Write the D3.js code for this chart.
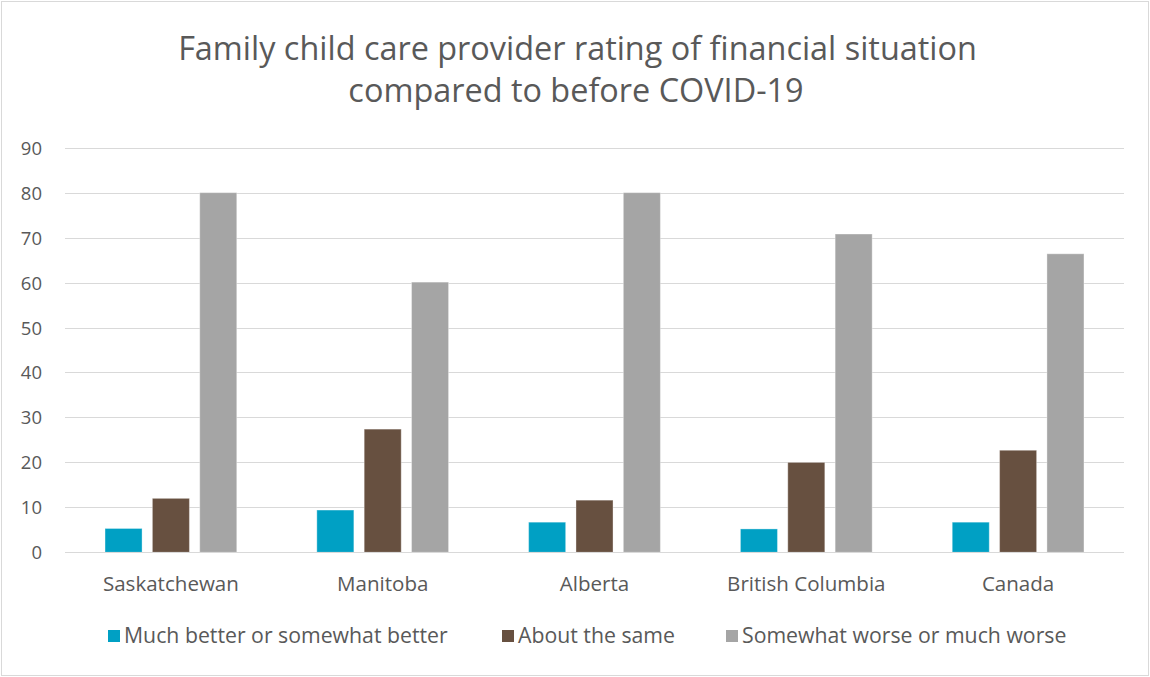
<!DOCTYPE html>
<html>
<head>
<meta charset="utf-8">
<script src="https://cdn.jsdelivr.net/npm/d3@7"></script>
<style>
  html, body { margin: 0; padding: 0; background: #fff; }
  svg { display: block; }
  text { font-family: "Open Sans", "Noto Sans", sans-serif; fill: #595959; }
</style>
</head>
<body>
<svg id="chart" width="1150" height="677"></svg>
<script>
const titleLines = ["Family child care provider rating of financial situation", "compared to before COVID-19"];
const categories = ["Saskatchewan", "Manitoba", "Alberta", "British Columbia", "Canada"];
const seriesNames = ["Much better or somewhat better", "About the same", "Somewhat worse or much worse"];
const seriesColors = ["#00A0C4", "#675040", "#A5A5A5"];
const betterValues = [5.3, 9.4, 6.7, 5.2, 6.7];
const sameValues = [12.0, 27.4, 11.6, 20.0, 22.7];
const worseValues = [80.0, 60.1, 80.0, 70.8, 66.4];
const yTicks = [0, 10, 20, 30, 40, 50, 60, 70, 80, 90];

const seriesValues = [betterValues, sameValues, worseValues];
const W = 1150, H = 677;
const plot = { left: 65, right: 1124, top: 147.7, bottom: 552.3 };

const svg = d3.select("#chart");

// outer border
svg.append("rect").attr("x", 1.5).attr("y", 1.5).attr("width", W - 3).attr("height", H - 3)
  .attr("fill", "#fff").attr("stroke", "#d9d9d9").attr("stroke-width", 1);

function fit(sel, target) {
  const w = sel.node().getComputedTextLength();
  const fs = parseFloat(sel.attr("font-size"));
  sel.attr("font-size", fs * target / w);
}

// title
const t1 = svg.append("text").attr("x", 577.5).attr("y", 60).attr("text-anchor", "middle")
  .attr("font-size", 30).text(titleLines[0]);
fit(t1, 799);
const tfs = t1.attr("font-size");
svg.append("text").attr("x", 576).attr("y", 102).attr("text-anchor", "middle")
  .attr("font-size", tfs).text(titleLines[1]);

const y = d3.scaleLinear().domain([0, 90]).range([plot.bottom, plot.top]);
const x0 = d3.scaleBand().domain(categories).range([plot.left, plot.right])
  .paddingInner(0.378).paddingOuter(0.189);
const x1 = d3.scaleBand().domain(seriesNames).range([0, x0.bandwidth()]).paddingInner(0.218);

// gridlines
const grid = svg.append("g");
grid.selectAll("line").data(yTicks).join("line")
  .attr("x1", plot.left).attr("x2", plot.right)
  .attr("y1", d => Math.round(y(d)) + 0.5).attr("y2", d => Math.round(y(d)) + 0.5)
  .attr("stroke", "#d9d9d9").attr("stroke-width", 1.2);

// y axis labels
const yAxis = svg.append("g").attr("transform", `translate(${plot.left},0)`)
  .call(d3.axisLeft(y).tickValues(yTicks).tickSize(0).tickPadding(23));
yAxis.select(".domain").remove();
yAxis.selectAll("text").attr("font-size", 18.5).attr("font-family", null).style("fill", "#595959")
  .attr("dy", "0.35em");
yAxis.attr("font-family", null).attr("font-size", null);

// bars
const groups = svg.append("g").selectAll("g").data(categories).join("g")
  .attr("transform", d => `translate(${x0(d)},0)`);
groups.selectAll("rect").data((c, ci) => seriesNames.map((s, si) => ({ s, si, v: seriesValues[si][ci] })))
  .join("rect")
  .attr("x", d => x1(d.s)).attr("width", x1.bandwidth())
  .attr("y", d => y(d.v)).attr("height", d => y(0) - y(d.v))
  .attr("fill", d => seriesColors[d.si])
  .attr("stroke", "#ffffff").attr("stroke-opacity", 0.35).attr("stroke-width", 1);

// baseline (0 gridline over bars)
svg.append("line").attr("x1", plot.left).attr("x2", plot.right)
  .attr("y1", Math.round(y(0)) + 0.5).attr("y2", Math.round(y(0)) + 0.5)
  .attr("stroke", "#d9d9d9").attr("stroke-width", 1.2);

// x axis labels
const xAxis = svg.append("g").attr("transform", `translate(0,${plot.bottom})`)
  .call(d3.axisBottom(x0).tickSize(0).tickPadding(0));
xAxis.select(".domain").remove();
xAxis.attr("font-family", null).attr("font-size", null);
xAxis.selectAll("text").attr("font-size", 18).attr("dy", null).attr("y", 39).style("fill", "#595959");
const sk = xAxis.selectAll("text").filter(d => d === "Saskatchewan");
fit(sk, 136);
xAxis.selectAll("text").attr("font-size", sk.attr("font-size"));

// legend
const legendX = [108, 502, 726];
const legend = svg.append("g");
const li = legend.selectAll("g").data(seriesNames).join("g")
  .attr("transform", (d, i) => `translate(${legendX[i]},630)`);
li.append("rect").attr("width", 12).attr("height", 12).attr("fill", (d, i) => seriesColors[i]);
const ltexts = li.append("text").attr("x", 16).attr("y", 6).attr("dy", "0.35em")
  .attr("font-size", 18).text(d => d);
fit(d3.select(ltexts.nodes()[0]), 324);
ltexts.attr("font-size", d3.select(ltexts.nodes()[0]).attr("font-size"));
</script>
</body>
</html>
